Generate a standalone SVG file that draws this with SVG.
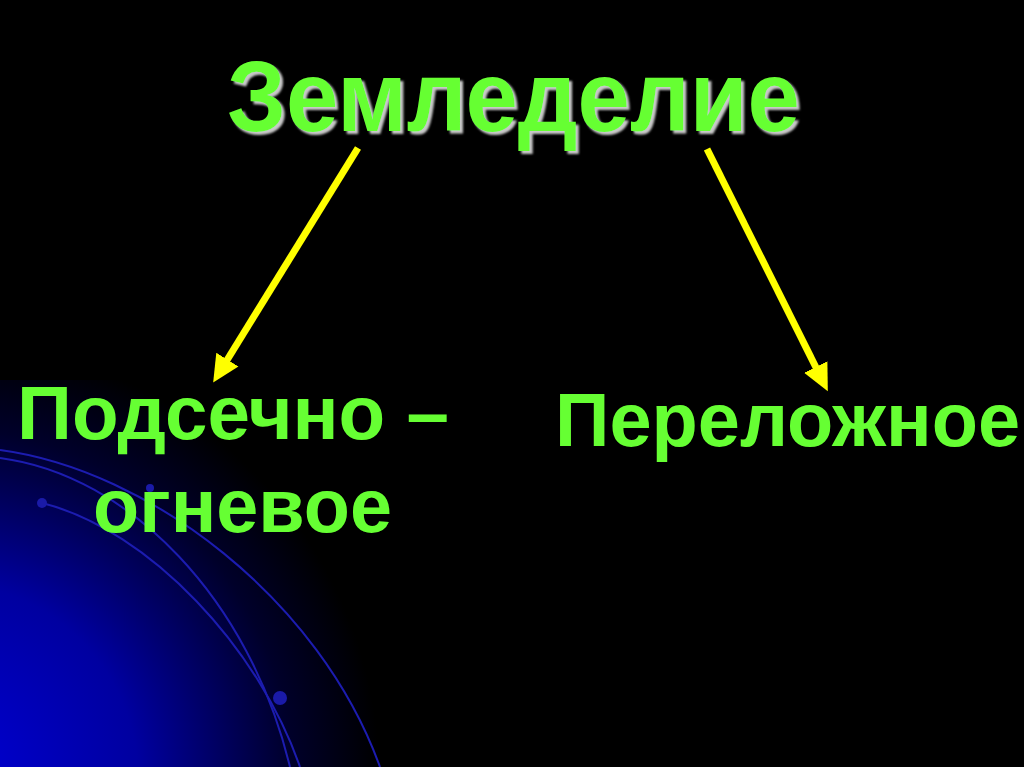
<svg xmlns="http://www.w3.org/2000/svg" width="1024" height="767" viewBox="0 0 1024 767">
<defs>
<radialGradient id="glow" cx="-60" cy="780" r="440" gradientUnits="userSpaceOnUse">
<stop offset="0" stop-color="#0000d8"/>
<stop offset="0.45" stop-color="#0000a0"/>
<stop offset="0.8" stop-color="#00002a"/>
<stop offset="1" stop-color="#000000"/>
</radialGradient>
<filter id="shade" x="-5%" y="-10%" width="110%" height="130%">
<feGaussianBlur in="SourceAlpha" stdDeviation="1.2" result="b"/>
<feOffset in="b" dx="2.5" dy="2.5" result="o"/>
<feFlood flood-color="#c8c8c8"/>
<feComposite in2="o" operator="in" result="s"/>
<feMerge><feMergeNode in="s"/><feMergeNode in="SourceGraphic"/></feMerge>
</filter>
<marker id="head" markerUnits="userSpaceOnUse" markerWidth="28" markerHeight="28" viewBox="0 0 28 28" refX="14" refY="14" orient="auto">
<path d="M0,1 L27,14 L0,27 z" fill="#ffff00"/>
</marker>
</defs>
<style>
.lbl{font-family:"Liberation Sans",Arial,sans-serif;font-weight:bold;fill:#66ff33}
.arc{fill:none;stroke:#1c1cb0;stroke-width:2}
.dot{fill:#1a1aa8}
.arrow{stroke:#ffff00;stroke-width:7;fill:none;marker-end:url(#head)}
</style>
<rect x="0" y="0" width="1024" height="767" fill="#000"/>
<rect x="0" y="380" width="520" height="387" fill="url(#glow)"/>
<g id="decor">
<path class="arc" d="M0,450 C150,470 320,600 380,767"/>
<path class="arc" d="M0,458 C130,475 250,600 290,767"/>
<path class="arc" d="M42,503 C150,530 260,650 300,767"/>
<circle class="dot" cx="42" cy="503" r="5"/>
<circle class="dot" cx="150" cy="488" r="4"/>
<circle class="dot" cx="280" cy="698" r="7"/>
</g>
<g id="connectors">
<line class="arrow" x1="358" y1="148" x2="220" y2="371.5"/>
<line class="arrow" x1="707" y1="149" x2="822" y2="379.5"/>
</g>
<g id="node-title">
<text class="lbl" x="227" y="131" font-size="100" textLength="573" lengthAdjust="spacingAndGlyphs" filter="url(#shade)">Земледелие</text>
</g>
<g id="node-left">
<text class="lbl" x="17" y="439" font-size="76" textLength="432" lengthAdjust="spacingAndGlyphs">Подсечно –</text>
<text class="lbl" x="93" y="532" font-size="76" textLength="299" lengthAdjust="spacingAndGlyphs">огневое</text>
</g>
<g id="node-right">
<text class="lbl" x="555" y="446" font-size="76" textLength="465" lengthAdjust="spacingAndGlyphs">Переложное</text>
</g>
</svg>
